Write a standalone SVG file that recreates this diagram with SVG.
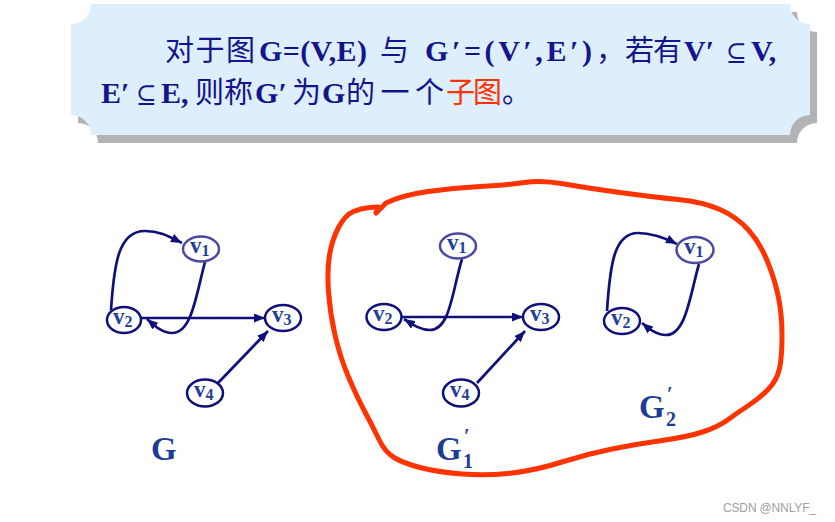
<svg xmlns="http://www.w3.org/2000/svg" width="835" height="522" viewBox="0 0 835 522">
<style>
.lat{font-family:"Liberation Serif","DejaVu Serif",serif;font-weight:bold;font-size:30px}
.sym{font-family:"Liberation Serif","DejaVu Serif",serif;font-weight:normal;font-size:25px}
.cjk{font-family:"Noto Sans CJK SC","Noto Sans",sans-serif}
.hdr{font-size:29px;fill:#14148c}
.node ellipse{fill:#ffffff;stroke:#10107a;stroke-width:2.5}
.nl{font-family:"Liberation Serif","DejaVu Serif",serif;font-weight:bold;font-size:23px;fill:#1f3f99}
.edge{fill:none;stroke:#10107a;stroke-width:2.7}
.gl{font-family:"Liberation Serif","DejaVu Serif",serif;font-weight:bold;fill:#1c3c96}
</style>
<defs>
<marker id="arr" markerUnits="userSpaceOnUse" markerWidth="12" markerHeight="9" refX="11" refY="4.5" orient="auto">
<path d="M0,0 L11,4.5 L0,9 z" fill="#10107a"/>
</marker>
<path id="boxshape" d="M91,4 H790 A20,20 0 0 0 810,24 V115 A20,20 0 0 0 790,135 H91 A20,20 0 0 0 71,115 V24 A20,20 0 0 0 91,4 Z"/>
</defs>
<rect width="835" height="522" fill="#ffffff"/>

<g id="header">
<use href="#boxshape" transform="translate(7,8)" fill="#b3b3b3"/>
<use href="#boxshape" fill="#ddeefc"/>
<text class="hdr" y="61">
<tspan class="cjk" x="165" textLength="90">对于图</tspan><tspan class="lat" x="259" textLength="108">G=(V,E)</tspan><tspan class="cjk" x="380">与</tspan><tspan class="lat" x="425" textLength="167">G′=(V′,E′)</tspan><tspan class="cjk" x="596">，</tspan><tspan class="cjk" x="625" textLength="57">若有</tspan><tspan class="lat" x="684">V′</tspan><tspan class="sym" x="726">⊆</tspan><tspan class="lat" x="751">V,</tspan>
</text>
<text class="hdr" y="103">
<tspan class="lat" x="101">E′</tspan><tspan class="sym" x="136">⊆</tspan><tspan class="lat" x="161">E,</tspan><tspan class="cjk" x="195" textLength="58">则称</tspan><tspan class="lat" x="255" textLength="32">G′</tspan><tspan class="cjk" x="292">为</tspan><tspan class="lat" x="322">G</tspan><tspan class="cjk" x="346" textLength="98">的一个</tspan><tspan class="cjk" x="446" textLength="56" fill="#ff3300">子图</tspan><tspan class="cjk" x="502">。</tspan>
</text>
</g>

<g id="outline">
<path d="M376,213 L386,203 Q403,195 428,191.5 Q453,188 480,186.5 Q507,185 524.5,182.5 Q542,180 564.5,184 Q587,188 620,192.5 Q653,197 678,199.5 Q703,202 720,209.5 Q737,217 748.5,230 Q760,243 767.5,261.5 Q775,280 778.5,297.5 Q782,315 782,336 Q782,357 779.5,368.5 Q777,380 768.5,389 Q760,398 748.5,405.5 Q737,413 727.5,420 Q718,427 702.5,432 Q687,437 662,440.5 Q637,444 612,449 Q587,454 562,462 Q537,470 512,473 Q487,476 462,474 Q437,472 420,467.5 Q403,463 394,457.5 Q385,452 379,439.5 Q373,427 365,412 Q357,397 348.5,377 Q340,357 335,335 Q330,313 328.5,291.5 Q327,270 329.5,255 Q332,240 338.5,227.5 Q345,215 353.5,211.5 Q362,208 370,207.5 L378,207 L376,213" fill="none" stroke="#ff3300" stroke-width="5" stroke-linejoin="round" stroke-linecap="round"/>
</g>

<g id="connectors">
<path class="edge" marker-end="url(#arr)" d="M111,310 C114,265 118,231 145,231 C160,231 170,237 182,243"/>
<path class="edge" marker-end="url(#arr)" d="M205,262 C196,295 192,333 172,333 C162,333 154,325 147,319"/>
<path class="edge" marker-end="url(#arr)" d="M141,318 L265,318"/>
<path class="edge" marker-end="url(#arr)" d="M218,383 L268,331"/>
<path class="edge" marker-end="url(#arr)" d="M462,259 C452,292 450,330 430,330 C420,330 412,324 404,319"/>
<path class="edge" marker-end="url(#arr)" d="M402,317 L523,317"/>
<path class="edge" marker-end="url(#arr)" d="M477,383 L525,331"/>
<path class="edge" marker-end="url(#arr)" d="M607,311 C610,265 614,233 638,233 C652,233 665,238 677,244"/>
<path class="edge" marker-end="url(#arr)" d="M699,264 C690,295 686,335 666,335 C656,335 648,328 642,323"/>
</g>

<g id="G-v1" class="node"><ellipse cx="201" cy="249" rx="18" ry="12.5" style="stroke:#4a4aa0"/><text class="nl" x="190" y="253">v<tspan dy="3" font-size="16">1</tspan></text></g>
<g id="G-v2" class="node"><ellipse cx="124" cy="320" rx="17" ry="13"/><text class="nl" x="113" y="324">v<tspan dy="3" font-size="16">2</tspan></text></g>
<g id="G-v3" class="node"><ellipse cx="283" cy="318" rx="18" ry="13"/><text class="nl" x="272" y="322">v<tspan dy="3" font-size="16">3</tspan></text></g>
<g id="G-v4" class="node"><ellipse cx="205" cy="393" rx="18" ry="13.5"/><text class="nl" x="194" y="397">v<tspan dy="3" font-size="16">4</tspan></text></g>

<g id="G1-v1" class="node"><ellipse cx="458" cy="246" rx="18" ry="12.5" style="stroke:#4a4aa0"/><text class="nl" x="447" y="250">v<tspan dy="3" font-size="16">1</tspan></text></g>
<g id="G1-v2" class="node"><ellipse cx="384" cy="317" rx="17.5" ry="13"/><text class="nl" x="373" y="321">v<tspan dy="3" font-size="16">2</tspan></text></g>
<g id="G1-v3" class="node"><ellipse cx="541" cy="317" rx="18" ry="13"/><text class="nl" x="530" y="321">v<tspan dy="3" font-size="16">3</tspan></text></g>
<g id="G1-v4" class="node"><ellipse cx="461" cy="393" rx="18" ry="13.5"/><text class="nl" x="450" y="397">v<tspan dy="3" font-size="16">4</tspan></text></g>

<g id="G2-v1" class="node"><ellipse cx="695" cy="250" rx="18.5" ry="13" style="stroke:#4a4aa0"/><text class="nl" x="684" y="254">v<tspan dy="3" font-size="16">1</tspan></text></g>
<g id="G2-v2" class="node"><ellipse cx="622" cy="321" rx="18" ry="13"/><text class="nl" x="611" y="325">v<tspan dy="3" font-size="16">2</tspan></text></g>

<g id="labels">
<text class="gl" x="151" y="460" font-size="33">G</text>
<text class="gl" x="436" y="460" font-size="33">G</text>
<text class="gl" x="464" y="443" font-size="20">′</text>
<text class="gl" x="463" y="468" font-size="20">1</text>
<text class="gl" x="639" y="418" font-size="33">G</text>
<text class="gl" x="667" y="401" font-size="20">′</text>
<text class="gl" x="666" y="426" font-size="20">2</text>
</g>

<text x="723" y="512" font-family="Liberation Sans, Arial, sans-serif" font-size="12" fill="#a0a0a0" textLength="93">CSDN @NNLYF_</text>
</svg>
